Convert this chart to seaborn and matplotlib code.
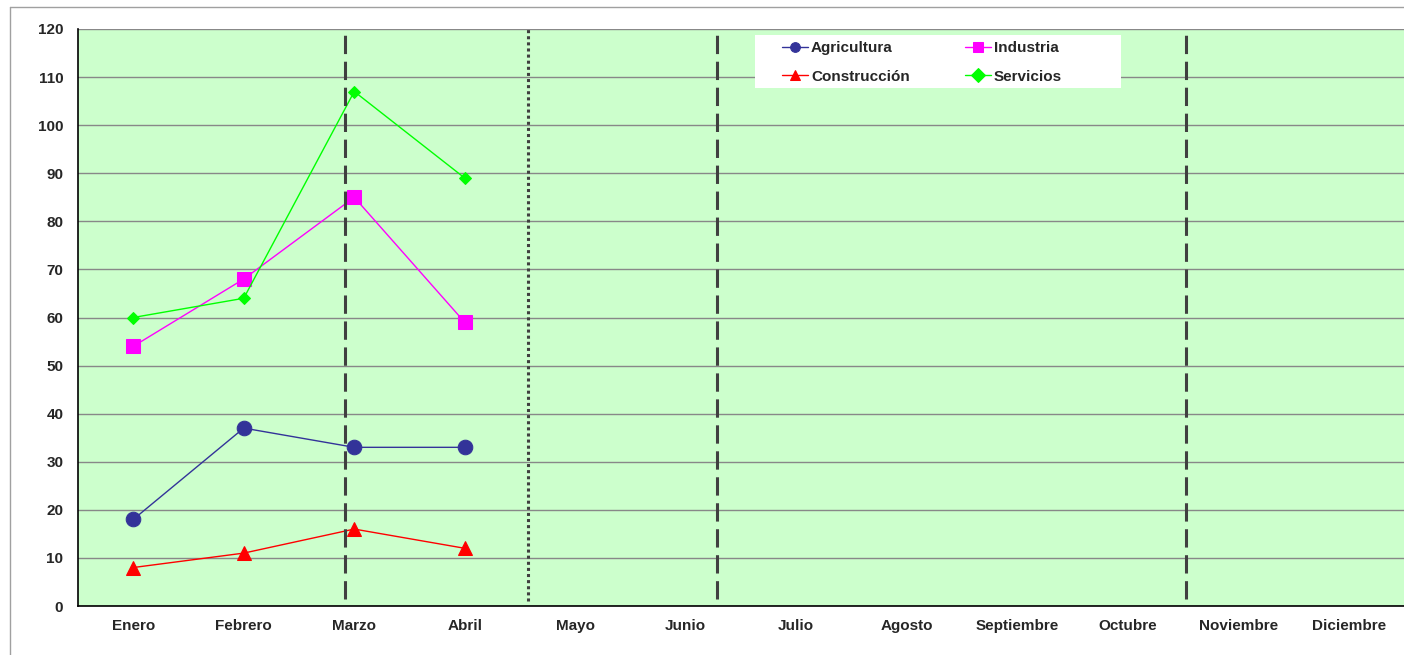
import numpy as np
import pandas as pd
import matplotlib
matplotlib.use("Agg")
import matplotlib.pyplot as plt
from matplotlib.lines import Line2D
from matplotlib.patches import Rectangle
import seaborn as sns

# data
meses = ["Enero", "Febrero", "Marzo", "Abril", "Mayo", "Junio", "Julio",
         "Agosto", "Septiembre", "Octubre", "Noviembre", "Diciembre"]
agricultura = [18, 37, 33, 33]
industria = [54, 68, 85, 59]
construccion = [8, 11, 16, 12]
servicios = [60, 64, 107, 89]

# vertical marker lines (position in category units, Enero = 0)
lineas_discontinuas = [1.92, 5.28, 9.53]
linea_punteada = 3.575

sns.set_style("white")
plt.rcParams['font.family'] = ['Liberation Sans', 'DejaVu Sans']

fig = plt.figure(figsize=(14.04, 6.55), dpi=100)
ax = fig.add_axes([78 / 1404, 49 / 655, 1326 / 1404, 577 / 655])
ax.set_facecolor("#CCFFCC")

# outer chart border (gray, partly cut off)
fig.add_artist(Line2D([10 / 1404, 10 / 1404], [0, 1 - 7 / 655], color="#A0A0A0", lw=1))
fig.add_artist(Line2D([10 / 1404, 1], [1 - 7 / 655, 1 - 7 / 655], color="#A0A0A0", lw=1))

series = [
    ("Agricultura", agricultura, "#333399", "o", 10.5),
    ("Construcción", construccion, "#FF0000", "^", 10),
    ("Industria", industria, "#FF00FF", "s", 9.5),
    ("Servicios", servicios, "#00FF00", "D", 6),
]

for nombre, vals, color, marker, ms in series:
    df = pd.DataFrame({"mes": np.arange(len(vals)), "valor": vals})
    sns.lineplot(data=df, x="mes", y="valor", ax=ax, color=color, marker=marker,
                 markersize=ms, markeredgecolor=color, linewidth=1, label=nombre,
                 zorder=4)

for x in lineas_discontinuas:
    ax.axvline(x, ymin=0.012, ymax=1, color="#404040", lw=2.2, ls=(0, (6, 2.5)), zorder=5)
ax.axvline(linea_punteada, ymin=0.008, ymax=1, color="#404040", lw=2.2, ls=(0, (1, 1)), zorder=5)

ax.set_xlim(-0.5, 11.5)
ax.set_ylim(0, 120)
ax.set_yticks(np.arange(0, 121, 10))
ax.set_xticks(np.arange(12))
ax.set_xticklabels(meses)
ax.set_xticks(np.arange(-0.5, 12, 1), minor=True)
ax.tick_params(axis="x", which="major", length=0, pad=17)
ax.tick_params(axis="x", which="minor", length=3.6, color="#A0A0A0", direction="out")
ax.tick_params(axis="y", length=3.6, color="#A0A0A0", direction="out", pad=7)
for lab in ax.get_xticklabels() + ax.get_yticklabels():
    lab.set_fontweight("bold")
    lab.set_fontsize(11)
for lab in ax.get_xticklabels():
    lab.set_verticalalignment("baseline")
ax.yaxis.grid(True, color="#888888", lw=1, zorder=0)
ax.set_axisbelow(True)
ax.set_xlabel("")
ax.set_ylabel("")

for s in ["top", "right"]:
    ax.spines[s].set_visible(False)
for s in ["left", "bottom"]:
    ax.spines[s].set_color("black")
    ax.spines[s].set_linewidth(1.2)

# white legend box
ax.add_patch(Rectangle((0.5106, 0.8977), 0.276, 0.092, transform=ax.transAxes,
                       facecolor="white", edgecolor="none", zorder=6))

handles, labels = ax.get_legend_handles_labels()
leg = ax.legend(handles, labels, ncol=2, loc="upper left",
                bbox_to_anchor=(0.5309, 0.979), borderaxespad=0, borderpad=0,
                frameon=False, handlelength=1.7, handletextpad=0.2,
                columnspacing=3.6, labelspacing=0.95,
                prop={"weight": "bold", "size": 11})
for h in leg.legend_handles:
    h.set_markersize(7)
leg.set_zorder(7)

fig.savefig("out.png", dpi=100, facecolor="white")
